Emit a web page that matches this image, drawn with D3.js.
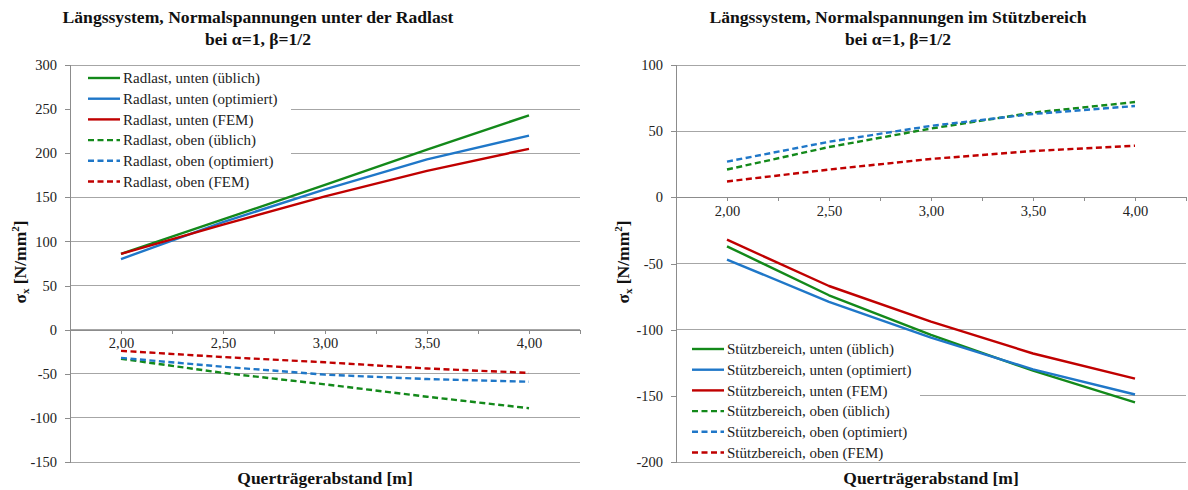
<!DOCTYPE html>
<html>
<head>
<meta charset="utf-8">
<script src="https://cdn.jsdelivr.net/npm/d3@7"></script>
<style>
  html, body { margin: 0; padding: 0; background: #fff; }
  svg { display: block; font-family: "Liberation Serif", "DejaVu Serif", serif; }
</style>
</head>
<body>
<svg id="chart" width="1188" height="490"></svg>
<script>
// Querträgerabstand [m]
const spacings = [2.0, 2.5, 3.0, 3.5, 4.0];
const xTickValues = [1.75, 2.0, 2.25, 2.5, 2.75, 3.0, 3.25, 3.5, 3.75, 4.0, 4.25];
const xLabelValues = [2.0, 2.5, 3.0, 3.5, 4.0];

// Normalspannungen unter der Radlast [N/mm²]
const radlastUntenUeblich    = [86, 125, 164, 204, 243];
const radlastUntenOptimiert  = [80, 122, 159, 193, 220];
const radlastUntenFEM        = [86, 119, 151, 180, 205];
const radlastObenUeblich     = [-33, -49, -62, -76, -89];
const radlastObenOptimiert   = [-32, -42, -51, -56, -59];
const radlastObenFEM         = [-24, -31, -37, -44, -49];
const radlastYTicks = [-150, -100, -50, 0, 50, 100, 150, 200, 250, 300];

// Normalspannungen im Stützbereich [N/mm²]
const stuetzUntenUeblich     = [-37, -74, -104, -131, -155];
const stuetzUntenOptimiert   = [-47, -79, -106, -130, -149];
const stuetzUntenFEM         = [-32, -67, -94, -118, -137];
const stuetzObenUeblich      = [21, 38, 52, 64, 72];
const stuetzObenOptimiert    = [27, 42, 54, 63, 69];
const stuetzObenFEM          = [12, 21, 29, 35, 39];
const stuetzYTicks = [-200, -150, -100, -50, 0, 50, 100];

const GREEN = "#13891a", BLUE = "#1f77c8", RED = "#c00000";
const GRID = "#a6a6a6", AXIS = "#8c8c8c";

const svg = d3.select("#chart");
const fmt = v => v.toFixed(2).replace(".", ",");

function panel(opt) {
  const g = svg.append("g");
  const x = d3.scaleLinear().domain([1.75, 4.25]).range([opt.left, opt.right]);
  const y = d3.scaleLinear().domain(opt.yDomain).range([462, 65]);

  // horizontal gridlines
  g.append("g").selectAll("line").data(opt.yTicks).join("line")
    .attr("x1", opt.left).attr("x2", opt.right)
    .attr("y1", d => y(d)).attr("y2", d => y(d))
    .attr("stroke", GRID).attr("stroke-width", 1).attr("shape-rendering", "crispEdges");

  // y axis
  const yAxis = d3.axisLeft(y).tickValues(opt.yTicks).tickSize(5).tickPadding(8)
    .tickFormat(d => String(d));
  const ya = g.append("g").attr("transform", `translate(${opt.left},0)`).call(yAxis);
  ya.select(".domain").attr("stroke", AXIS);
  ya.selectAll(".tick line").attr("stroke", AXIS);
  ya.selectAll("text").attr("font-size", 14.5).attr("fill", "#222")
    .attr("font-family", "Liberation Serif, serif");
  ya.attr("shape-rendering", "crispEdges");

  // x axis at zero
  const xAxis = d3.axisBottom(x).tickValues(xTickValues).tickSize(4).tickPadding(4)
    .tickFormat(d => xLabelValues.some(v => Math.abs(v - d) < 1e-9) ? fmt(d) : "");
  const xa = g.append("g").attr("transform", `translate(0,${y(0)})`).call(xAxis);
  xa.select(".domain").attr("stroke", AXIS);
  xa.selectAll(".tick line").attr("stroke", AXIS);
  xa.selectAll("text").attr("font-size", 14.5).attr("fill", "#222")
    .attr("font-family", "Liberation Serif, serif");
  xa.attr("shape-rendering", "crispEdges");

  // legend box (white, covers gridlines)
  const lg = opt.legend;
  g.append("rect").attr("x", lg.x).attr("y", lg.y).attr("width", lg.w).attr("height", lg.h)
    .attr("fill", "#fff");

  // series lines
  const line = d3.line().x((d, i) => x(spacings[i])).y(d => y(d));
  g.append("g").selectAll("path").data(opt.series).join("path")
    .attr("d", s => line(s.values))
    .attr("fill", "none")
    .attr("stroke", s => s.color)
    .attr("stroke-width", 2.4)
    .attr("stroke-dasharray", s => s.dashed ? "6,3.5" : null)
    .attr("stroke-linejoin", "round");

  // legend entries
  const le = g.append("g").selectAll("g").data(opt.series).join("g")
    .attr("transform", (s, i) => `translate(${lg.x + lg.sx},${lg.y + lg.top + i * 20.7})`);
  le.append("line").attr("x1", 0).attr("x2", 32).attr("y1", 0).attr("y2", 0)
    .attr("stroke", s => s.color).attr("stroke-width", 2.4)
    .attr("stroke-dasharray", s => s.dashed ? "6,3.5" : null);
  le.append("text").attr("x", 35).attr("y", 0).attr("dy", "0.35em")
    .attr("font-size", 15).attr("fill", "#222").text(s => s.name);

  // title
  const t = g.append("text").attr("text-anchor", "middle").attr("font-weight", "bold")
    .attr("font-size", 17.6).attr("fill", "#111");
  t.append("tspan").attr("x", opt.titleX).attr("y", 23).text(opt.title);
  t.append("tspan").attr("x", opt.titleX).attr("y", 45).text("bei α=1, β=1/2");

  // x axis title
  g.append("text").attr("x", (opt.left + opt.right) / 2).attr("y", 484)
    .attr("text-anchor", "middle").attr("font-weight", "bold").attr("font-size", 17.5)
    .attr("fill", "#111").text("Querträgerabstand [m]");

  // y axis title
  const yt = g.append("text")
    .attr("transform", `translate(${opt.yTitleX},262) rotate(-90)`)
    .attr("text-anchor", "middle").attr("font-weight", "bold").attr("font-size", 17.5)
    .attr("fill", "#111");
  yt.append("tspan").text("σ");
  yt.append("tspan").attr("font-size", 11).attr("dy", 3).text("x");
  yt.append("tspan").attr("dy", -3).text(" [N/mm");
  yt.append("tspan").attr("font-size", 11).attr("dy", -7).text("2");
  yt.append("tspan").attr("dy", 7).text("]");
}

panel({
  left: 70, right: 580,
  yDomain: [-150, 300], yTicks: radlastYTicks,
  title: "Längssystem, Normalspannungen unter der Radlast", titleX: 258,
  yTitleX: 26,
  legend: { x: 71, y: 66, w: 220, h: 126, sx: 17, top: 12 },
  series: [
    { name: "Radlast, unten (üblich)", values: radlastUntenUeblich, color: GREEN, dashed: false },
    { name: "Radlast, unten (optimiert)", values: radlastUntenOptimiert, color: BLUE, dashed: false },
    { name: "Radlast, unten (FEM)", values: radlastUntenFEM, color: RED, dashed: false },
    { name: "Radlast, oben (üblich)", values: radlastObenUeblich, color: GREEN, dashed: true },
    { name: "Radlast, oben (optimiert)", values: radlastObenOptimiert, color: BLUE, dashed: true },
    { name: "Radlast, oben (FEM)", values: radlastObenFEM, color: RED, dashed: true }
  ]
});

panel({
  left: 676, right: 1186,
  yDomain: [-200, 100], yTicks: stuetzYTicks,
  title: "Längssystem, Normalspannungen im Stützbereich", titleX: 898,
  yTitleX: 629,
  legend: { x: 677, y: 337, w: 243, h: 124, sx: 15, top: 12 },
  series: [
    { name: "Stützbereich, unten (üblich)", values: stuetzUntenUeblich, color: GREEN, dashed: false },
    { name: "Stützbereich, unten (optimiert)", values: stuetzUntenOptimiert, color: BLUE, dashed: false },
    { name: "Stützbereich, unten (FEM)", values: stuetzUntenFEM, color: RED, dashed: false },
    { name: "Stützbereich, oben (üblich)", values: stuetzObenUeblich, color: GREEN, dashed: true },
    { name: "Stützbereich, oben (optimiert)", values: stuetzObenOptimiert, color: BLUE, dashed: true },
    { name: "Stützbereich, oben (FEM)", values: stuetzObenFEM, color: RED, dashed: true }
  ]
});
</script>
</body>
</html>
